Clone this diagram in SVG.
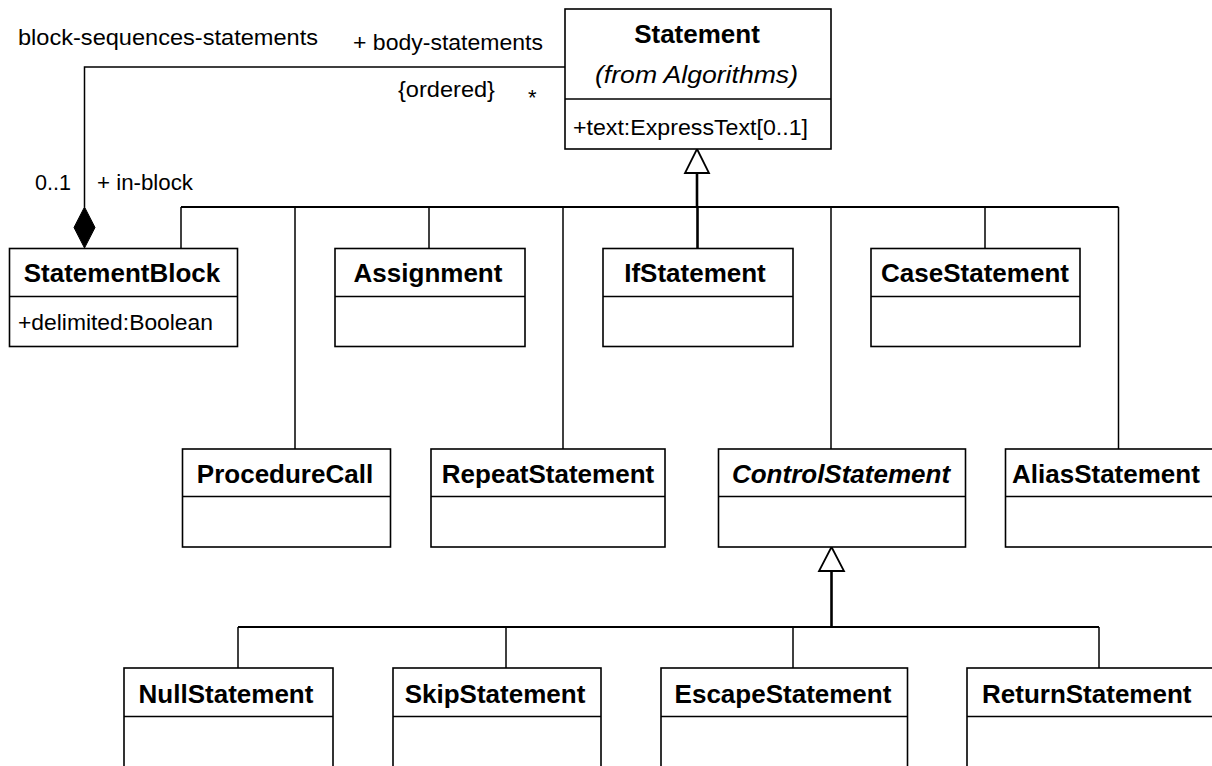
<svg xmlns="http://www.w3.org/2000/svg" width="1212" height="766" viewBox="0 0 1212 766">
<style>
.box{fill:#fff;stroke:#000;stroke-width:1.6}
.div{stroke:#000;stroke-width:1.6}
.t{font-family:"Liberation Sans",Arial,sans-serif;font-weight:bold;font-size:26px;fill:#000;text-anchor:middle}
.ts{font-family:"Liberation Sans",Arial,sans-serif;font-weight:bold;font-size:26px;fill:#000;text-anchor:start}
.r{font-family:"Liberation Sans",Arial,sans-serif;font-size:22px;fill:#000}
.ln{fill:none;stroke:#000;stroke-width:1.5}
.thick{fill:none;stroke:#000;stroke-width:2.6}
.tree{fill:none;stroke:#000;stroke-width:2}
.tri{fill:#fff;stroke:#000;stroke-width:1.8}
</style>
<g id="connectors">
  <polyline class="ln" points="565,67 84.5,67 84.5,207"/>
  <polygon points="84.5,207 95,227.5 84.5,248 74,227.5" fill="#000" stroke="#000" stroke-width="1"/>
  <line class="thick" x1="697" y1="173" x2="697" y2="207"/>
  <line class="tree" x1="181" y1="207" x2="1118.5" y2="207"/>
  <line class="ln" x1="181" y1="207" x2="181" y2="248.5"/>
  <line class="ln" x1="295" y1="207" x2="295" y2="449"/>
  <line class="ln" x1="429" y1="207" x2="429" y2="248.5"/>
  <line class="ln" x1="563" y1="207" x2="563" y2="449"/>
  <line class="thick" x1="697.5" y1="207" x2="697.5" y2="248.5"/>
  <line class="ln" x1="831" y1="207" x2="831" y2="449"/>
  <line class="ln" x1="985" y1="207" x2="985" y2="248.5"/>
  <line class="ln" x1="1118.5" y1="207" x2="1118.5" y2="449"/>
  <polygon class="tri" points="697,149 709,173 685,173"/>
  <line class="thick" x1="831.5" y1="571" x2="831.5" y2="627"/>
  <line class="tree" x1="238" y1="627" x2="1099" y2="627"/>
  <line class="ln" x1="238" y1="627" x2="238" y2="668"/>
  <line class="ln" x1="506" y1="627" x2="506" y2="668"/>
  <line class="ln" x1="793" y1="627" x2="793" y2="668"/>
  <line class="ln" x1="1099" y1="627" x2="1099" y2="668"/>
  <polygon class="tri" points="831.5,547 844,571 819,571"/>
  <text class="r" x="18" y="45" textLength="300" lengthAdjust="spacingAndGlyphs">block-sequences-statements</text>
  <text class="r" x="353" y="50" textLength="190" lengthAdjust="spacingAndGlyphs">+ body-statements</text>
  <text class="r" x="398" y="97" textLength="97" lengthAdjust="spacingAndGlyphs">{ordered}</text>
  <text class="r" x="528" y="105">*</text>
  <text class="r" x="35" y="190" textLength="36" lengthAdjust="spacingAndGlyphs">0..1</text>
  <text class="r" x="97" y="190" textLength="96" lengthAdjust="spacingAndGlyphs">+ in-block</text>
</g>
<g id="Statement">
  <rect class="box" x="565" y="9" width="266" height="140"/>
  <line class="div" x1="565" y1="99" x2="831" y2="99"/>
  <text class="t" x="697" y="42.5">Statement</text>
  <text class="r" x="595" y="83" style="font-style:italic;font-size:23px" textLength="203" lengthAdjust="spacingAndGlyphs">(from Algorithms)</text>
  <text class="r" x="573" y="135" textLength="235" lengthAdjust="spacingAndGlyphs">+text:ExpressText[0..1]</text>
</g>
<g id="StatementBlock">
  <rect class="box" x="9.5" y="248.5" width="228" height="98"/>
  <line class="div" x1="9.5" y1="296.5" x2="237.5" y2="296.5"/>
  <text class="t" x="122" y="281.5">StatementBlock</text>
  <text class="r" x="18" y="330" textLength="195" lengthAdjust="spacingAndGlyphs">+delimited:Boolean</text>
</g>
<g id="Assignment">
  <rect class="box" x="335" y="248.5" width="190" height="98"/>
  <line class="div" x1="335" y1="296.5" x2="525" y2="296.5"/>
  <text class="t" x="428" y="281.5">Assignment</text>
</g>
<g id="IfStatement">
  <rect class="box" x="603" y="248.5" width="190" height="98"/>
  <line class="div" x1="603" y1="296.5" x2="793" y2="296.5"/>
  <text class="t" x="695" y="281.5">IfStatement</text>
</g>
<g id="CaseStatement">
  <rect class="box" x="871" y="248.5" width="209" height="98"/>
  <line class="div" x1="871" y1="296.5" x2="1080" y2="296.5"/>
  <text class="t" x="975" y="281.5">CaseStatement</text>
</g>
<g id="ProcedureCall">
  <rect class="box" x="182.5" y="449" width="208" height="98"/>
  <line class="div" x1="182.5" y1="496.5" x2="390.5" y2="496.5"/>
  <text class="t" x="285" y="482.5">ProcedureCall</text>
</g>
<g id="RepeatStatement">
  <rect class="box" x="431" y="449" width="234" height="98"/>
  <line class="div" x1="431" y1="496.5" x2="665" y2="496.5"/>
  <text class="t" x="548" y="482.5">RepeatStatement</text>
</g>
<g id="ControlStatement">
  <rect class="box" x="718.5" y="449" width="247" height="98"/>
  <line class="div" x1="718.5" y1="496.5" x2="965.5" y2="496.5"/>
  <text class="t" x="841" y="482.5" style="font-style:italic">ControlStatement</text>
</g>
<g id="AliasStatement">
  <rect class="box" x="1005.5" y="449" width="230" height="98"/>
  <line class="div" x1="1005.5" y1="496.5" x2="1235" y2="496.5"/>
  <text class="ts" x="1012" y="482.5">AliasStatement</text>
</g>
<g id="NullStatement">
  <rect class="box" x="124" y="668" width="209" height="120"/>
  <line class="div" x1="124" y1="716.5" x2="333" y2="716.5"/>
  <text class="t" x="226" y="703">NullStatement</text>
</g>
<g id="SkipStatement">
  <rect class="box" x="393" y="668" width="208" height="120"/>
  <line class="div" x1="393" y1="716.5" x2="601" y2="716.5"/>
  <text class="t" x="495" y="703">SkipStatement</text>
</g>
<g id="EscapeStatement">
  <rect class="box" x="661" y="668" width="246.5" height="120"/>
  <line class="div" x1="661" y1="716.5" x2="907.5" y2="716.5"/>
  <text class="t" x="783" y="703">EscapeStatement</text>
</g>
<g id="ReturnStatement">
  <rect class="box" x="967" y="668" width="260" height="120"/>
  <line class="div" x1="967" y1="716.5" x2="1227" y2="716.5"/>
  <text class="ts" x="982" y="703">ReturnStatement</text>
</g>
</svg>
